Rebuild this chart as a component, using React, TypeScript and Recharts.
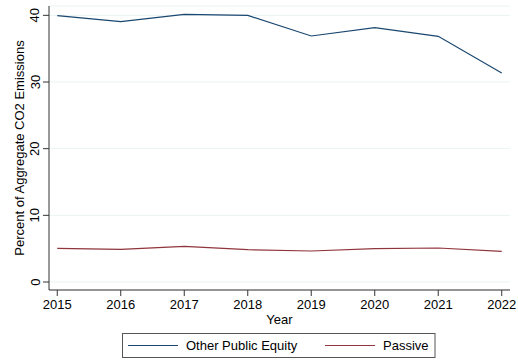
import React from "react";
import {
  LineChart,
  Line,
  XAxis,
  YAxis,
  CartesianGrid,
  Legend,
  Label,
} from "recharts";

// Years on the horizontal axis
const years = [2015, 2016, 2017, 2018, 2019, 2020, 2021, 2022];
// Share of aggregate CO2 emissions (percent)
const otherPublicEquity = [39.95, 39.05, 40.15, 39.98, 36.9, 38.15, 36.85, 31.35];
const passive = [5.05, 4.9, 5.35, 4.85, 4.65, 5.0, 5.1, 4.6];
const yTicks = [0, 10, 20, 30, 40];

const seriesNames = { ope: "Other Public Equity", passive: "Passive" };
const colors = { ope: "#1a476f", passive: "#90353b" };

const data = years.map((year, i) => ({
  year,
  ope: otherPublicEquity[i],
  passive: passive[i],
}));

const FONT = "'Liberation Sans', Arial, Helvetica, sans-serif";
const AXIS = "#333333";

const YTick = (props: any) => {
  const { x, y, payload } = props;
  const cx = x - 6;
  return (
    <text
      x={cx}
      y={y}
      transform={`rotate(-90, ${cx}, ${y})`}
      textAnchor="middle"
      dominantBaseline="central"
      fontSize={13}
      fontFamily={FONT}
      fill="#000"
    >
      {payload.value}
    </text>
  );
};

const YTitle = (props: any) => {
  const vb = props.viewBox || {};
  const x = (vb.x ?? 0) + 19;
  const y = (vb.y ?? 0) + (vb.height ?? 0) / 2;
  return (
    <text
      x={x}
      y={y}
      transform={`rotate(-90, ${x}, ${y})`}
      textAnchor="middle"
      dominantBaseline="central"
      fontSize={13}
      fontFamily={FONT}
      fill="#000"
    >
      Percent of Aggregate CO2 Emissions
    </text>
  );
};

const XTitle = (props: any) => {
  const vb = props.viewBox || {};
  const x = (vb.x ?? 0) + (vb.width ?? 0) / 2;
  const y = (vb.y ?? 0) + 29;
  return (
    <text
      x={x}
      y={y}
      textAnchor="middle"
      dominantBaseline="central"
      fontSize={13}
      fontFamily={FONT}
      fill="#000"
    >
      Year
    </text>
  );
};

const LegendBox = () => (
  <svg width={518} height={28} style={{ display: "block" }}>
    <rect x={122.5} y={3.5} width={312.5} height={24} fill="#fff" stroke="#555" strokeWidth={1} />
    <line x1={128} x2={178} y1={15.5} y2={15.5} stroke={colors.ope} strokeWidth={1.2} />
    <text x={186} y={15.5} dominantBaseline="central" fontSize={13} fontFamily={FONT} fill="#000">
      {seriesNames.ope}
    </text>
    <line x1={325} x2={375} y1={15.5} y2={15.5} stroke={colors.passive} strokeWidth={1.2} />
    <text x={383} y={15.5} dominantBaseline="central" fontSize={13} fontFamily={FONT} fill="#000">
      {seriesNames.passive}
    </text>
  </svg>
);

export default function App() {
  return (
    <div style={{ position: "absolute", left: 0, top: 0, width: 518, height: 360, background: "#fff" }}>
      <LineChart
        width={518}
        height={360}
        data={data}
        margin={{ top: 6, right: 8, bottom: 2, left: 0 }}
      >
        <CartesianGrid horizontal vertical={false} stroke="#eaf2f3" strokeWidth={1} />
        <XAxis
          type="number"
          dataKey="year"
          domain={[2014.87, 2022.13]}
          ticks={years}
          allowDataOverflow
          interval={0}
          height={40}
          tickSize={6}
          tickMargin={4}
          stroke={AXIS}
          tick={{ fontSize: 13, fontFamily: FONT, fill: "#000" }}
        >
          <Label content={<XTitle />} />
        </XAxis>
        <YAxis
          type="number"
          domain={[-1.2, 41.4]}
          ticks={yTicks}
          allowDataOverflow
          interval={0}
          width={49}
          tickSize={6}
          tickMargin={2}
          stroke={AXIS}
          tick={<YTick />}
        >
          <Label content={<YTitle />} />
        </YAxis>
        <Legend
          verticalAlign="bottom"
          content={<LegendBox />}
          wrapperStyle={{ left: 0, width: 518, height: 28 }}
        />
        <Line
          type="linear"
          dataKey="ope"
          name={seriesNames.ope}
          stroke={colors.ope}
          strokeWidth={1.2}
          dot={false}
          activeDot={false}
          isAnimationActive={false}
        />
        <Line
          type="linear"
          dataKey="passive"
          name={seriesNames.passive}
          stroke={colors.passive}
          strokeWidth={1.2}
          dot={false}
          activeDot={false}
          isAnimationActive={false}
        />
      </LineChart>
    </div>
  );
}
